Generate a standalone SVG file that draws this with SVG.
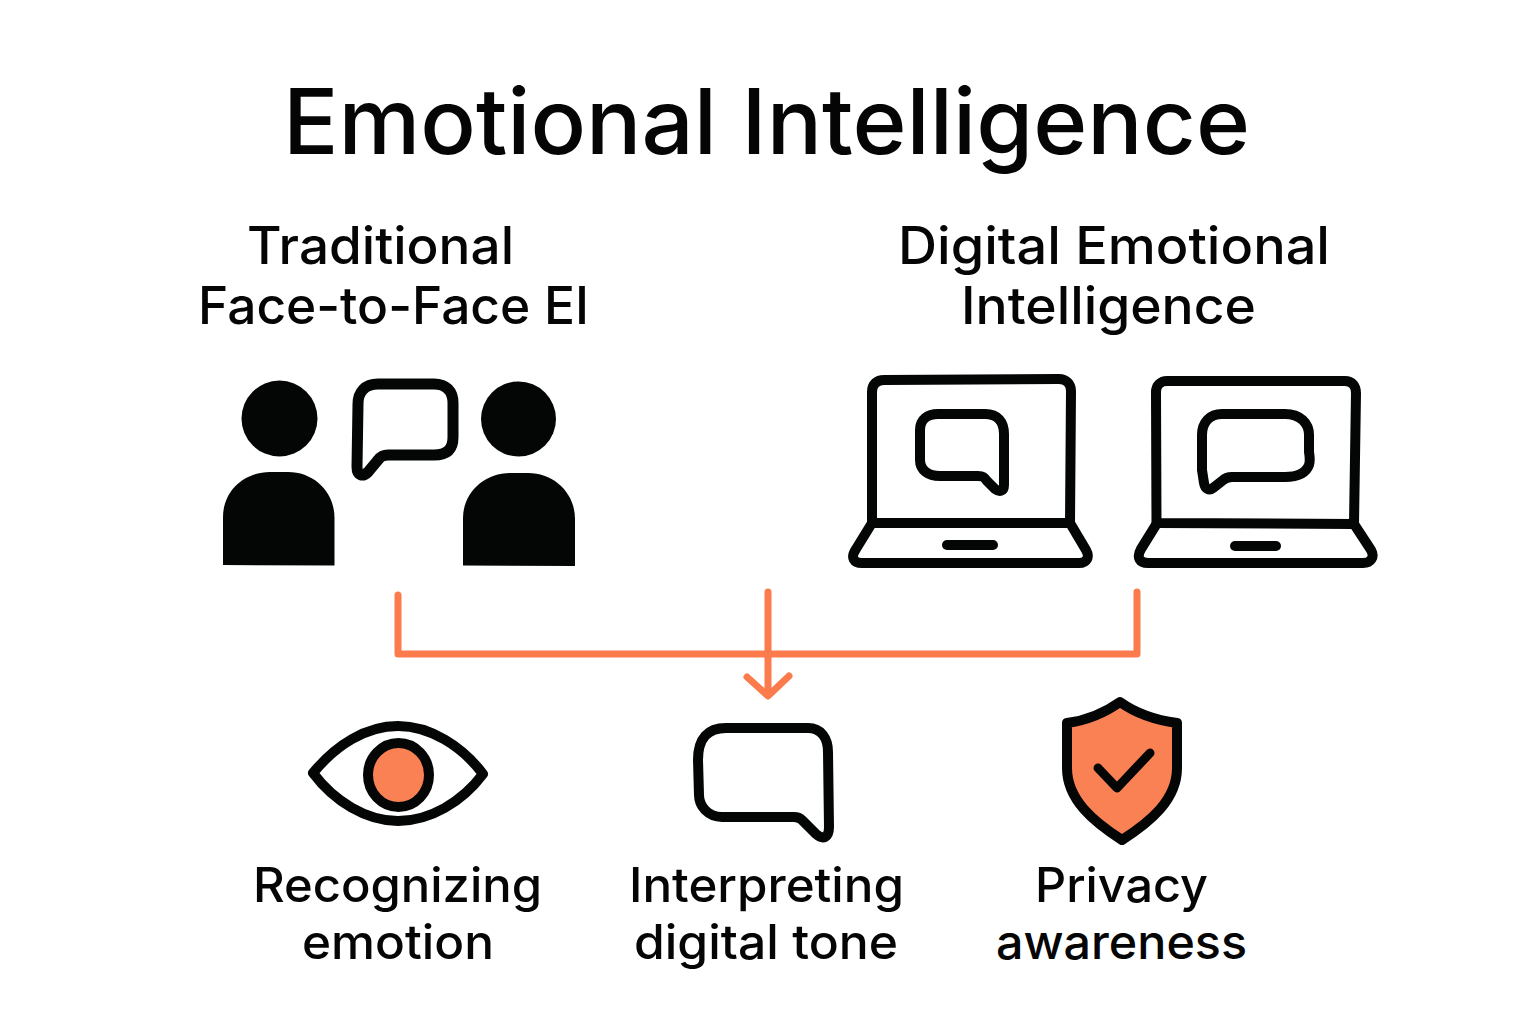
<svg xmlns="http://www.w3.org/2000/svg" width="1536" height="1024" viewBox="0 0 1536 1024">
<style>
text{font-family:"Inter","Noto Sans","Liberation Sans",sans-serif;fill:#050505}
.title{font-size:91px;font-weight:500}
.sub{font-size:51.500px;font-weight:500}
.lab{font-size:47.500px;font-weight:500}
.ln{fill:none;stroke:#030605;stroke-width:10;stroke-linejoin:round;stroke-linecap:round}
.fill{fill:#030605}
.or{fill:#fa8153}
.con{fill:none;stroke:#fb7b4d;stroke-width:7;stroke-linecap:round;stroke-linejoin:round}
</style>
<rect width="1536" height="1024" fill="#ffffff"/>
<g id="title"><text class="title" x="283" y="154" textLength="967" lengthAdjust="spacingAndGlyphs">Emotional Intelligence</text></g>
<g id="node-traditional">
<text class="sub" x="247" y="264" textLength="267" lengthAdjust="spacingAndGlyphs">Traditional</text>
<text class="sub" x="198" y="324" textLength="391" lengthAdjust="spacingAndGlyphs">Face-to-Face EI</text>
<circle class="fill" cx="279.500" cy="418.500" r="38"/>
<path class="fill" d="M223 565V517C223 490 245 472 270 472H288C314 472 334.500 492 334.500 518V565.500Z"/>
<circle class="fill" cx="518.500" cy="419" r="37.500"/>
<path class="fill" d="M463 565.500V518C463 492 485 473 510 473H528C554 473 575 493 575 519V566Z"/>
<path class="ln" style="stroke-width:11" d="M357 467C357 476 363 477 368 472L378 460C381 456 383 455 388 455H434C447 455 453 449 453 437V403C453 391 446 384 434 384H378C365 384 358 392 358 404Z"/>
</g>
<g id="node-digital">
<text class="sub" x="898" y="264" textLength="432" lengthAdjust="spacingAndGlyphs">Digital Emotional</text>
<text class="sub" x="961" y="324" textLength="295" lengthAdjust="spacingAndGlyphs">Intelligence</text>
<g id="laptop-left">
<path class="ln" d="M872 523V392C872 384 877 380 884 380L1059 379C1066 379 1071 384 1071 391L1070 523Z"/>
<path class="ln" d="M872 523L856 549C850 558 854 563 862 563H1079C1087 563 1090 557 1086 550L1070 523"/>
<path class="ln" d="M947 545H993"/>
<path class="ln" d="M920 445V430C920 419 928 414 938 414H985C998 414 1004 422 1004 434V485C1004 492 999 492 995 489L987 481C984 477 983 476 978 476H940C928 476 920 470 920 460Z"/>
</g>
<g id="laptop-right">
<path class="ln" d="M1156.500 523L1156 392C1156 385 1161 381 1167 381H1345C1352 381 1356 386 1356 393L1354 524Z"/>
<path class="ln" d="M1156.500 524L1141 549C1136 558 1140 563 1148 563H1363C1371 563 1375 557 1371 550L1354 524"/>
<path class="ln" d="M1235 546H1276"/>
<path class="ln" d="M1202 435C1202 422 1210 414 1222 414H1285C1300 414 1309 423 1309 435V452C1310 458 1310 462 1309 465C1306 473 1298 477 1285 477H1232C1227 477 1225 478 1222 481L1213 488C1209 491 1205 489 1204 483L1202 470Z"/>
</g>
</g>
<g id="connectors">
<path class="con" d="M398 595V654H1137V592"/>
<path class="con" d="M768 592V694"/>
<path class="con" d="M747 677L768 696L789 676"/>
</g>
<g id="node-recognizing">
<path class="ln" d="M313 773C336 745 366 726 398 726C430 726 462 746 483 774C462 802 430 821 398 821C366 821 334 801 313 773Z"/>
<ellipse cx="398.500" cy="775" rx="30.500" ry="32" class="or" stroke="#030605" stroke-width="10"/>
<text class="lab" x="253" y="901.500" textLength="289" lengthAdjust="spacingAndGlyphs">Recognizing</text>
<text class="lab" x="302" y="958.500" textLength="192" lengthAdjust="spacingAndGlyphs">emotion</text>
</g>
<g id="node-interpreting">
<path class="ln" d="M698 760C698 738 708 728 726 728H808C821 728 828 738 828 752L829 827C829 838 823 840 816 834L802 820C799 817 797 817 794 817H722C708 817 699 806 699 795Z"/>
<text class="lab" x="629" y="901.500" textLength="275" lengthAdjust="spacingAndGlyphs">Interpreting</text>
<text class="lab" x="634" y="958.500" textLength="264" lengthAdjust="spacingAndGlyphs">digital tone</text>
</g>
<g id="node-privacy">
<path class="ln" style="fill:#fa8153" d="M1120 702C1134 712 1155 720 1177 723L1177 768C1177 800 1150 822 1122 840C1094 822 1067 800 1067 768L1067 723C1090 720 1106 712 1120 702Z"/>
<path class="ln" style="stroke-width:9" d="M1098 768L1117 788L1150 753"/>
<text class="lab" x="1035" y="901.500" textLength="173" lengthAdjust="spacingAndGlyphs">Privacy</text>
<text class="lab" x="996" y="958.500" textLength="251" lengthAdjust="spacingAndGlyphs">awareness</text>
</g>
</svg>
